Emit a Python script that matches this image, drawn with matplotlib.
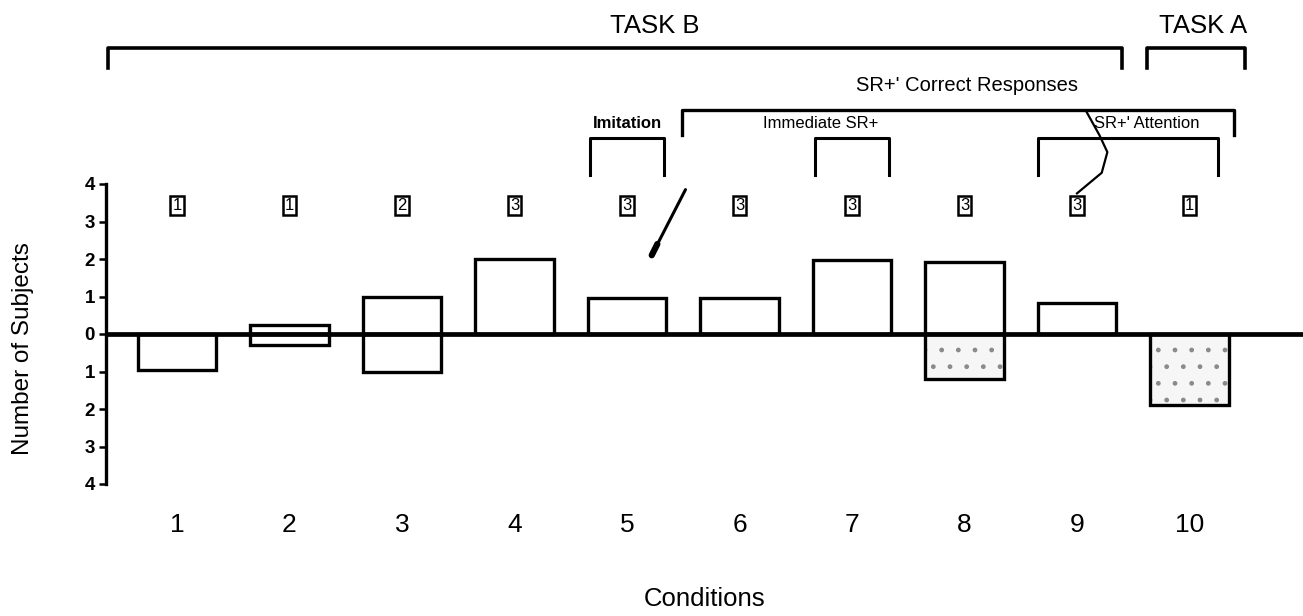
import matplotlib
matplotlib.use("Agg")
import matplotlib.pyplot as plt
from matplotlib.patches import Rectangle

plt.rcParams['font.family'] = ['Liberation Sans', 'DejaVu Sans']

# ---- data ----
conditions = [1, 2, 3, 4, 5, 6, 7, 8, 9, 10]
pos_values = [0.0, 0.25, 1.0, 2.0, 0.97, 0.95, 1.97, 1.93, 0.82, 0.0]
neg_values = [-0.95, -0.28, -1.0, 0.0, 0.0, 0.0, 0.0, -1.2, 0.0, -1.9]
shaded_neg = [False, False, False, False, False, False, False, True, False, True]
n_subjects = [1, 1, 2, 3, 3, 3, 3, 3, 3, 1]
ytick_values = [4, 3, 2, 1, 0, -1, -2, -3, -4]
ytick_labels = ['4', '3', '2', '1', '0', '1', '2', '3', '4']

# group brackets: (label, start, end, label centre)
task_groups = [("TASK B", 0.39, 9.40, 5.25), ("TASK A", 9.62, 10.49, 10.12)]
sr_group = ("SR+' Correct Responses", 5.49, 10.40, 8.02)
sub_labels = [("Imitation", 5.0), ("Immediate SR+", 6.72), ("SR+' Attention", 9.62)]
small_brackets = [(4.67, 5.33), (6.67, 7.33), (8.65, 10.25)]

W, H = 1303, 616
fig = plt.figure(figsize=(W / 100, H / 100), dpi=100)
ax = fig.add_axes([106 / W, (H - 484) / H, (W - 106) / W, 300 / H])
ax.set_xlim(0.369, 11.009)
ax.set_ylim(-4, 4)

bw = 0.7
for c, p, n, sh in zip(conditions, pos_values, neg_values, shaded_neg):
    if p > 0:
        ax.add_patch(Rectangle((c - bw / 2, 0), bw, p, fill=False,
                               edgecolor='black', linewidth=2.4))
    if n < 0:
        if sh:
            ax.add_patch(Rectangle((c - bw / 2, n), bw, -n, facecolor='#f6f6f6',
                                   edgecolor='#8a8a8a', hatch='.', linewidth=0))
        ax.add_patch(Rectangle((c - bw / 2, n), bw, -n, fill=False,
                               edgecolor='black', linewidth=2.4))

ax.axhline(0, color='black', linewidth=3.4, zorder=5)

for s in ['top', 'right', 'bottom']:
    ax.spines[s].set_visible(False)
ax.spines['left'].set_linewidth(2.4)
ax.set_yticks(ytick_values)
ax.set_yticklabels(ytick_labels, fontsize=13.5, fontweight='bold')
ax.tick_params(axis='y', direction='out', length=5, width=1.8, pad=3)
ax.set_xticks(conditions)
ax.set_xticklabels([str(c) for c in conditions], fontsize=19)
ax.tick_params(axis='x', length=0, pad=21)
ax.set_xlabel("Conditions", fontsize=18.5, labelpad=36)
ax.set_ylabel("Number of Subjects", fontsize=17.5)
ax.yaxis.set_label_coords(-0.060, 0.45)

kw = dict(clip_on=False, color='black')

# number boxes
for c, k in zip(conditions, n_subjects):
    ax.text(c, 3.44, str(k), ha='center', va='center', fontsize=12,
            bbox=dict(boxstyle='square,pad=0.12', fc='white', ec='black', lw=1.8))

# task brackets
for label, a, b, xc in task_groups:
    ax.plot([a, a, b, b], [7.09, 7.63, 7.63, 7.09], lw=2.6, **kw)
    ax.text(xc, 8.22, label, ha='center', va='center', fontsize=18.5)

# SR+ correct responses bracket
label, a, b, xc = sr_group
ax.plot([a, a, b, b], [5.31, 5.97, 5.97, 5.31], lw=2.4, **kw)
ax.text(xc, 6.62, label, ha='center', va='center', fontsize=14.5)

for label, xc in sub_labels:
    ax.text(xc, 5.62, label, ha='center', va='center', fontsize=12,
            fontweight='bold' if label == "Imitation" else 'normal')

for a, b in small_brackets:
    ax.plot([a, a, b, b], [4.24, 5.23, 5.23, 4.24], lw=2.2, **kw)

# hand-drawn marks on the original scan
ax.plot([5.52, 5.22], [3.85, 2.1], lw=2.2, solid_capstyle='round', **kw)
ax.plot([5.27, 5.22], [2.4, 2.1], lw=4.5, solid_capstyle='round', **kw)
ax.plot([9.08, 9.2, 9.27, 9.22, 9.0], [5.95, 5.3, 4.85, 4.3, 3.75], lw=1.6, **kw)

fig.savefig("out.png", dpi=100)
